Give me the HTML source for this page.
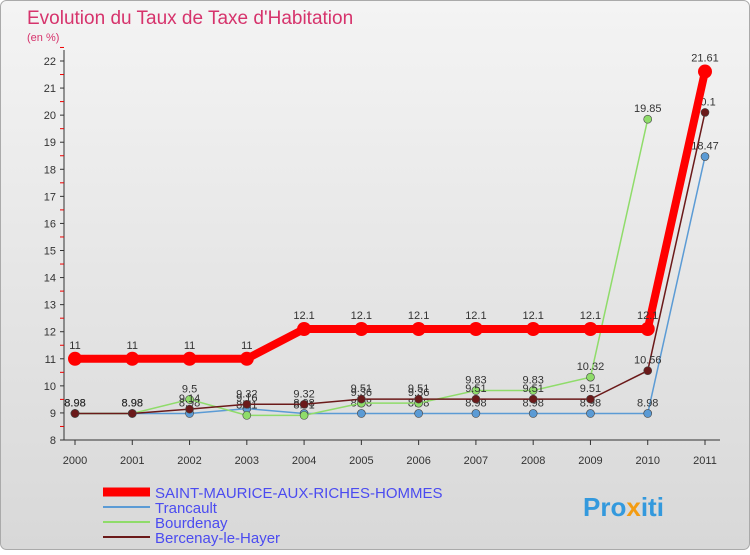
<!DOCTYPE html>
<html><head><meta charset="utf-8"><style>
body{margin:0;width:750px;height:550px;overflow:hidden;font-family:"Liberation Sans",sans-serif}
</style></head><body>
<svg id="chart" width="750" height="550" xmlns="http://www.w3.org/2000/svg">
<defs><linearGradient id="bg" x1="0" y1="0" x2="0" y2="1"><stop offset="0" stop-color="#f4f4f4"/><stop offset="1" stop-color="#d8d8d8"/></linearGradient></defs>
<rect x="0.5" y="0.5" width="749" height="549" rx="6" fill="url(#bg)" stroke="#aaa"/>
<text x="27" y="24" font-size="19" fill="#d6336c">Evolution du Taux de Taxe d'Habitation</text>
<text x="27" y="41" font-size="11" fill="#d6336c">(en %)</text>
<g id="axes"></g><g id="series"></g>
<g>
<line x1="103" y1="492" x2="150" y2="492" stroke="#f00" stroke-width="9"/>
<text x="155" y="498" font-size="15" fill="#4b4bf0">SAINT-MAURICE-AUX-RICHES-HOMMES</text>
<line x1="103" y1="507" x2="150" y2="507" stroke="#5b9bd5" stroke-width="2"/>
<text x="155" y="513" font-size="15" fill="#4b4bf0">Trancault</text>
<line x1="103" y1="522" x2="150" y2="522" stroke="#8fdc6a" stroke-width="2"/>
<text x="155" y="528" font-size="15" fill="#4b4bf0">Bourdenay</text>
<line x1="103" y1="537" x2="150" y2="537" stroke="#6b1a1a" stroke-width="2"/>
<text x="155" y="543" font-size="15" fill="#4b4bf0">Bercenay-le-Hayer</text>
</g>
<text x="583" y="516" font-size="26" font-weight="bold" fill="#3399dd">Pro<tspan fill="#f39c12">x</tspan>iti</text>
</svg>
<script>
const years=[2000,2001,2002,2003,2004,2005,2006,2007,2008,2009,2010,2011];
const yTicks=[8,9,10,11,12,13,14,15,16,17,18,19,20,21,22];
const saint=[11,11,11,11,12.1,12.1,12.1,12.1,12.1,12.1,12.1,21.61];
const trancault=[8.98,8.98,8.98,9.16,8.98,8.98,8.98,8.98,8.98,8.98,8.98,18.47];
const bourdenay=[8.98,8.98,9.5,8.91,8.91,9.36,9.36,9.83,9.83,10.32,19.85,null];
const bercenay=[8.98,8.98,9.14,9.32,9.32,9.51,9.51,9.51,9.51,9.51,10.56,20.1];
const NS="http://www.w3.org/2000/svg";
const X=i=>75+i*(630/11);
const Y=v=>440-(v-8)*(379/14);
function mk(t,a,p){const e=document.createElementNS(NS,t);for(const k in a)e.setAttribute(k,a[k]);p.appendChild(e);return e;}
const ax=document.getElementById('axes');
const yl=mk('line',{x1:64,y1:50,x2:64,y2:440,stroke:'#333'},ax);


const xl=mk('line',{x1:64,y1:440,x2:720,y2:440,stroke:'#333'},ax);


yTicks.forEach(v=>{
 mk('line',{x1:60,y1:Y(v),x2:64,y2:Y(v),stroke:'#333'},ax);
 mk('line',{x1:60,y1:Y(v+0.5),x2:64,y2:Y(v+0.5),stroke:'#e00'},ax);
 const t=mk('text',{x:56,y:Y(v)+4,'font-size':11,'text-anchor':'end',fill:'#333'},ax);t.textContent=v;
 
 
});
years.forEach((y,i)=>{
 mk('line',{x1:X(i),y1:440,x2:X(i),y2:445,stroke:'#333'},ax);
 const t=mk('text',{x:X(i),y:464,'font-size':11,'text-anchor':'middle',fill:'#333'},ax);t.textContent=y;
 
 
});
const sg=document.getElementById('series');
function draw(data,color,w,r,name,labels){
 const g=mk('g',{},sg);
 
 
 let pts=[];data.forEach((v,i)=>{if(v!==null)pts.push(X(i)+','+Y(v));});
 mk('polyline',{points:pts.join(' '),fill:'none',stroke:color,'stroke-width':w},g);
 data.forEach((v,i)=>{if(v===null)return;
  const c=mk('circle',{cx:X(i),cy:Y(v),r:r,fill:color,stroke:'#444','stroke-width':r>5?0:0.6},g);
  
  
  if(labels){const t=mk('text',{x:X(i),y:Y(v)-(r>5?10:7),'font-size':11,'text-anchor':'middle',fill:'#333'},g);t.textContent=v;
  
  }
 });
}
draw(trancault,'#5b9bd5',1.5,4,'series-trancault',true);
draw(bourdenay,'#8fdc6a',1.5,4,'series-bourdenay',true);
draw(bercenay,'#6b1a1a',1.5,4,'series-bercenay',true);
draw(saint,'#ff0000',8,7,'series-saint-maurice',true);
</script>
</body></html>
